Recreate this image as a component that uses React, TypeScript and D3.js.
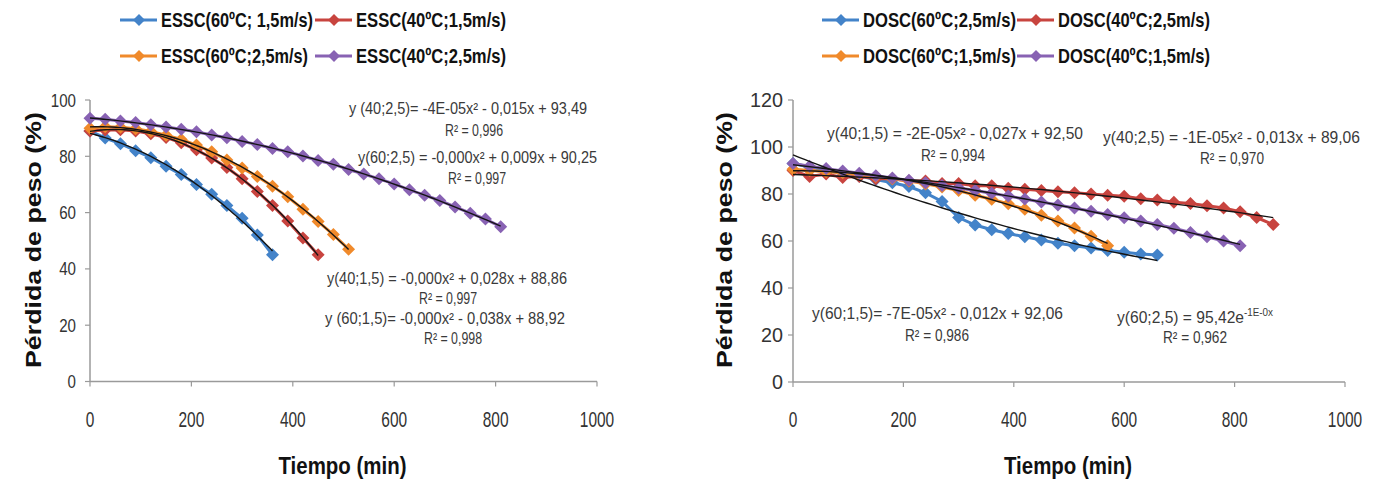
import React from 'react';
import * as d3 from 'd3';

// ---------- DATA ----------
const times = [0, 30, 60, 90, 120, 150, 180, 210, 240, 270, 300, 330, 360, 390, 420, 450, 480, 510, 540, 570, 600, 630, 660, 690, 720, 750, 780, 810, 840, 870];

// Left chart (ESSC)
const essc60_15 = [89, 86.5, 84.5, 82, 79.5, 76.5, 73.5, 70, 66.5, 62.5, 58, 52, 45];
const essc40_15 = [89, 89.3, 89.4, 89, 88, 86.7, 84.8, 82.3, 79.4, 76, 72, 67.5, 62.5, 57, 51, 45];
const essc60_25 = [90, 90.5, 90.3, 89.8, 88.8, 87.5, 86, 84, 81.6, 78.7, 75.8, 72.8, 69.4, 65.6, 61.2, 56.8, 52.2, 47];
const essc40_25 = [93.5, 93.2, 92.5, 92, 91.2, 90.4, 89.6, 88.7, 87.6, 86.6, 85.3, 84.2, 82.8, 81.6, 80.1, 78.5, 77.2, 75.3, 73.7, 72, 70.2, 68.1, 66.2, 64.3, 62, 59.8, 57.7, 55];

// Right chart (DOSC)
const dosc60_25 = [93, 91.5, 90, 88.8, 87.6, 86.2, 84.8, 83.2, 80.5, 76.8, 70, 66.8, 64.8, 63.2, 61.8, 60.4, 59, 58, 57, 56, 55.2, 54.5, 54];
const dosc40_25 = [90, 87.5, 88.5, 87, 87.5, 86.5, 86.5, 85.5, 85.5, 84.5, 84.5, 83.5, 83.5, 82.5, 82, 81.5, 81, 80.5, 80, 79.5, 79, 78, 77.5, 76.5, 76, 75, 74, 72.5, 70, 67];
const dosc60_15 = [90.5, 90, 89.5, 89, 88.3, 87.5, 86.5, 85.5, 84.3, 83, 81.5, 79.5, 77.8, 75.8, 73.5, 71, 68.5, 65.5, 62, 58];
const dosc40_15 = [93, 91.8, 90.8, 89.8, 88.8, 87.8, 86.8, 85.8, 84.8, 83.6, 82.6, 81.5, 80.3, 79.1, 77.9, 76.6, 75.3, 74, 72.7, 71.3, 69.9, 68.5, 67, 65.4, 63.6, 61.8, 60, 58];

const leftNames = ['ESSC(60ºC; 1,5m/s)', 'ESSC(40ºC;1,5m/s)', 'ESSC(60ºC;2,5m/s)', 'ESSC(40ºC;2,5m/s)'];
const rightNames = ['DOSC(60ºC;2,5m/s)', 'DOSC(40ºC;2,5m/s)', 'DOSC(60ºC;1,5m/s)', 'DOSC(40ºC;1,5m/s)'];

const xTicks = [0, 200, 400, 600, 800, 1000];
const leftYTicks = [0, 20, 40, 60, 80, 100];
const rightYTicks = [0, 20, 40, 60, 80, 100, 120];

const leftEq = [
  'y (40;2,5)= -4E-05x² - 0,015x + 93,49', 'R² = 0,996',
  'y(60;2,5) = -0,000x² + 0,009x + 90,25', 'R² = 0,997',
  'y(40;1,5) = -0,000x² + 0,028x + 88,86', 'R² = 0,997',
  'y (60;1,5)= -0,000x² - 0,038x + 88,92', 'R² = 0,998',
];
const rightEq = [
  'y(40;1,5) = -2E-05x² - 0,027x + 92,50', 'R² = 0,994',
  'y(40;2,5) = -1E-05x² - 0,013x + 89,06', 'R² = 0,970',
  'y(60;1,5)= -7E-05x² - 0,012x + 92,06', 'R² = 0,986',
  'y(60;2,5) = 95,42e', '-1E-0x', 'R² = 0,962',
];

const COLORS = ['#4383c9', '#c8443f', '#f08a2b', '#8862b3'];

// ---------- HELPERS ----------
function fit2(xs: number[], ys: number[]) {
  const s = [0, 0, 0, 0, 0];
  let t0 = 0, t1 = 0, t2 = 0;
  xs.forEach((x0, i) => {
    const x = x0 / 1000;
    const y = ys[i];
    let p = 1;
    for (let k = 0; k < 5; k++) { s[k] += p; p *= x; }
    t0 += y; t1 += x * y; t2 += x * x * y;
  });
  const M = [[s[0], s[1], s[2]], [s[1], s[2], s[3]], [s[2], s[3], s[4]]];
  const det = (m: number[][]) =>
    m[0][0] * (m[1][1] * m[2][2] - m[1][2] * m[2][1]) -
    m[0][1] * (m[1][0] * m[2][2] - m[1][2] * m[2][0]) +
    m[0][2] * (m[1][0] * m[2][1] - m[1][1] * m[2][0]);
  const D = det(M);
  const rhs = [t0, t1, t2];
  const coef = [0, 1, 2].map((c) => {
    const m = M.map((row, r) => row.map((v, j) => (j === c ? rhs[r] : v)));
    return det(m) / D;
  });
  return (x0: number) => {
    const x = x0 / 1000;
    return coef[0] + coef[1] * x + coef[2] * x * x;
  };
}

const diamond = (cx: number, cy: number, r: number) =>
  `M${cx},${cy - r}L${cx + r},${cy}L${cx},${cy + r}L${cx - r},${cy}Z`;

type ChartProps = {
  series: number[][];
  x0: number; x1: number; y0: number; y1: number; yMax: number;
  yTicks: number[]; yLabelW: number; yLabelSize: number; yLabelGap: number;
  yTitleX: number;
};

function Chart(p: ChartProps) {
  const x = d3.scaleLinear().domain([0, 1000]).range([p.x0, p.x1]);
  const y = d3.scaleLinear().domain([0, p.yMax]).range([p.y0, p.y1]);
  const line = d3.line<[number, number]>().x((d) => x(d[0])).y((d) => y(d[1]));
  const axisColor = '#9a9a9a';
  return (
    <g>
      {/* axes */}
      <line x1={p.x0} x2={p.x0} y1={p.y0} y2={p.y1} stroke={axisColor} strokeWidth={1.5} />
      <line x1={p.x0} x2={p.x1} y1={p.y0} y2={p.y0} stroke={axisColor} strokeWidth={1.5} />
      {p.yTicks.map((t) => (
        <g key={'y' + t}>
          <line x1={p.x0 - 5} x2={p.x0} y1={y(t)} y2={y(t)} stroke={axisColor} strokeWidth={1.2} />
          <text x={p.x0 - p.yLabelGap} y={y(t)} textAnchor="end" dominantBaseline="central"
            fontFamily="Liberation Sans, Arial, sans-serif" fontSize={p.yLabelSize} fill="#333"
            textLength={p.yLabelW * String(t).length} lengthAdjust="spacingAndGlyphs">{t}</text>
        </g>
      ))}
      {xTicks.map((t) => (
        <g key={'x' + t}>
          <line x1={x(t)} x2={x(t)} y1={p.y0} y2={p.y0 + 5} stroke={axisColor} strokeWidth={1.2} />
          <text x={x(t)} y={419} textAnchor="middle" dominantBaseline="central"
            fontFamily="Liberation Sans, Arial, sans-serif" fontSize={22} fill="#333"
            textLength={8.6 * String(t).length} lengthAdjust="spacingAndGlyphs">{t}</text>
        </g>
      ))}
      <text x={(p.x0 + p.x1) / 2 - 1} y={466} textAnchor="middle" dominantBaseline="central"
        fontFamily="Liberation Sans, Arial, sans-serif" fontWeight="bold" fontSize={23} fill="#111"
        textLength={128} lengthAdjust="spacingAndGlyphs">Tiempo (min)</text>
      <text transform={`translate(${p.yTitleX},240) rotate(-90)`} textAnchor="middle" dominantBaseline="central"
        fontFamily="Liberation Sans, Arial, sans-serif" fontWeight="bold" fontSize={22} fill="#111"
        textLength={256} lengthAdjust="spacingAndGlyphs">Pérdida de peso (%)</text>
      {/* series */}
      {p.series.map((vals, i) => {
        const pts = vals.map((v, j) => [times[j], v] as [number, number]);
        return (
          <g key={'s' + i}>
            <path d={line(pts) || ''} fill="none" stroke={COLORS[i]} strokeWidth={3} />
            {pts.map((d, j) => (
              <path key={j} d={diamond(x(d[0]), y(d[1]), 6.5)} fill={COLORS[i]} />
            ))}
          </g>
        );
      })}
      {/* trend lines */}
      {p.series.map((vals, i) => {
        const xs = vals.map((_, j) => times[j]);
        const f = fit2(xs, vals);
        const last = xs[xs.length - 1];
        const samp = d3.range(0, 61).map((k) => {
          const t = (last * k) / 60;
          return [t, f(t)] as [number, number];
        });
        return <path key={'t' + i} d={line(samp) || ''} fill="none" stroke="#141414" strokeWidth={1.4} />;
      })}
    </g>
  );
}

function Eq({ x, y, w, anchor, children }: any) {
  return (
    <text x={x} y={y} textAnchor={anchor || 'start'} dominantBaseline="central"
      fontFamily="Liberation Sans, Arial, sans-serif" fontSize={16} fill="#3a3a3a"
      textLength={w} lengthAdjust="spacingAndGlyphs">{children}</text>
  );
}

function Legend({ names, xs, tw }: { names: string[]; xs: number[]; tw: number[] }) {
  const rows = [20, 56];
  return (
    <g>
      {names.map((n, i) => {
        const r = Math.floor(i / 2);
        const c = i % 2;
        const lx = xs[c];
        const yy = rows[r];
        return (
          <g key={n}>
            <line x1={lx} x2={lx + 37} y1={yy} y2={yy} stroke={COLORS[i]} strokeWidth={3} />
            <path d={diamond(lx + 19, yy, 6)} fill={COLORS[i]} />
            <text x={lx + 41} y={yy} dominantBaseline="central"
              fontFamily="Liberation Sans, Arial, sans-serif" fontWeight="bold" fontSize={20} fill="#111"
              textLength={tw[i]} lengthAdjust="spacingAndGlyphs">{n}</text>
          </g>
        );
      })}
    </g>
  );
}

export default function App() {
  return (
    <svg width={1381} height={484} style={{ position: 'absolute', left: 0, top: 0, background: '#fff' }}>
      <rect width={1381} height={484} fill="#fff" />
      <Legend names={leftNames} xs={[120, 315]} tw={[152, 150, 147, 150]} />
      <Legend names={rightNames} xs={[822, 1017]} tw={[153, 152, 153, 152]} />
      <Chart series={[essc60_15, essc40_15, essc60_25, essc40_25]}
        x0={90} x1={597} y0={381.5} y1={100} yMax={100} yTicks={leftYTicks}
        yLabelW={8.4} yLabelSize={19} yLabelGap={14} yTitleX={33} />
      <Chart series={[dosc60_25, dosc40_25, dosc60_15, dosc40_15]}
        x0={793} x1={1345} y0={382} y1={100} yMax={120} yTicks={rightYTicks}
        yLabelW={11} yLabelSize={20} yLabelGap={10} yTitleX={724} />
      {/* left annotations */}
      <Eq x={349} y={108} w={238}>{leftEq[0]}</Eq>
      <Eq x={474} y={130} w={58} anchor="middle">{leftEq[1]}</Eq>
      <Eq x={358} y={157} w={239}>{leftEq[2]}</Eq>
      <Eq x={477} y={178} w={58} anchor="middle">{leftEq[3]}</Eq>
      <Eq x={327} y={278} w={240}>{leftEq[4]}</Eq>
      <Eq x={448} y={298} w={58} anchor="middle">{leftEq[5]}</Eq>
      <Eq x={325} y={318} w={240}>{leftEq[6]}</Eq>
      <Eq x={453} y={338} w={58} anchor="middle">{leftEq[7]}</Eq>
      {/* right annotations */}
      <Eq x={827} y={133} w={256}>{rightEq[0]}</Eq>
      <Eq x={953} y={155} w={64} anchor="middle">{rightEq[1]}</Eq>
      <Eq x={1103} y={137} w={257}>{rightEq[2]}</Eq>
      <Eq x={1232} y={158} w={64} anchor="middle">{rightEq[3]}</Eq>
      <Eq x={812} y={313} w={251}>{rightEq[4]}</Eq>
      <Eq x={937} y={335} w={64} anchor="middle">{rightEq[5]}</Eq>
      <text x={1117} y={317} dominantBaseline="central" fontFamily="Liberation Sans, Arial, sans-serif"
        fontSize={16} fill="#3a3a3a">
        <tspan textLength={127} lengthAdjust="spacingAndGlyphs">{rightEq[6]}</tspan>
        <tspan fontSize={10} dy={-5} textLength={29} lengthAdjust="spacingAndGlyphs">{rightEq[7]}</tspan>
      </text>
      <Eq x={1195} y={337} w={64} anchor="middle">{rightEq[8]}</Eq>
    </svg>
  );
}
